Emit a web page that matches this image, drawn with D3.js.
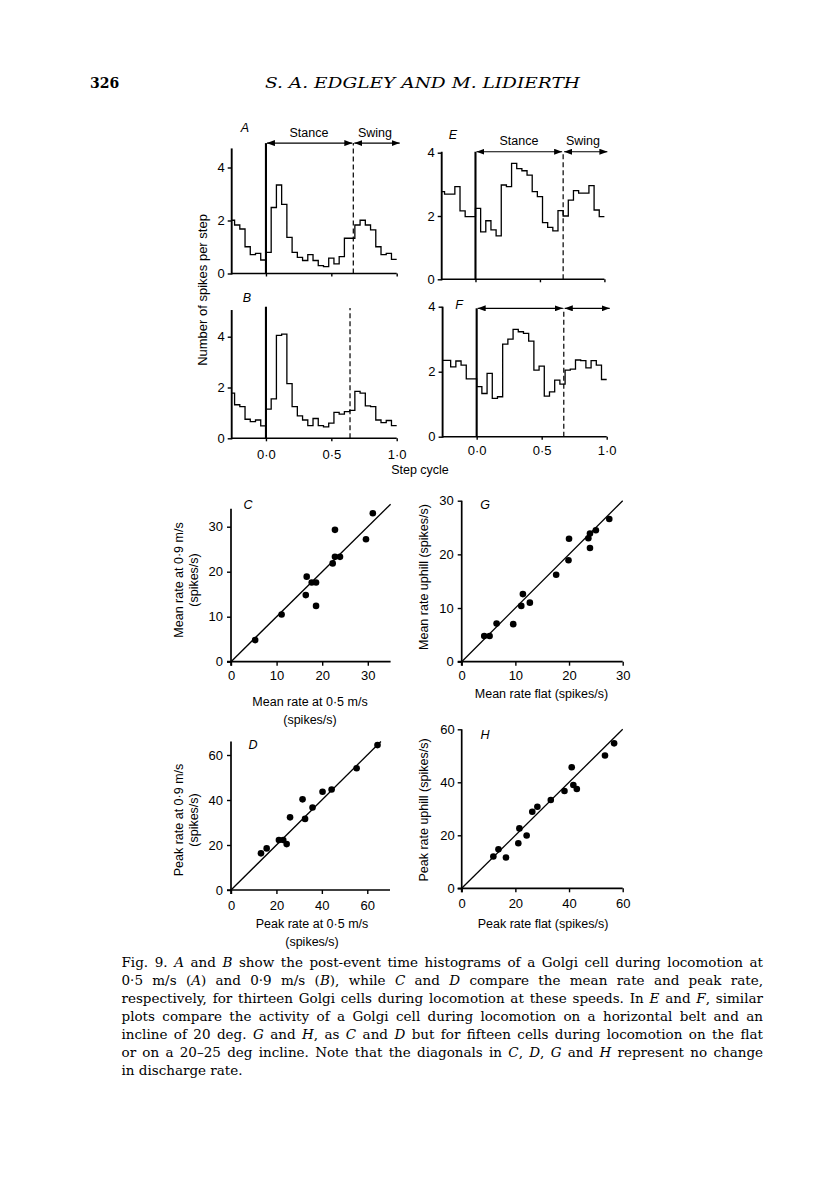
<!DOCTYPE html>
<html><head><meta charset="utf-8">
<script src="https://cdn.jsdelivr.net/npm/d3@7/dist/d3.min.js"></script>
<style>body{margin:0;background:#fff}svg{display:block}</style>
</head><body>
<svg id="fig" width="816" height="1200"></svg>
<script>
// ---------- DATA ----------
const binStart = -0.28, binWidth = 0.04;
// spikes per step per bin (A: 0.5 m/s, B: 0.9 m/s, E: flat, F: incline)
const histA = [2.01,1.83,1.68,1.01,0.71,0.76,0.51, 0.80,2.49,3.34,2.61,1.36,0.80,0.61,0.49,0.71,0.49,0.30,0.26,0.58,0.36,0.64,1.33,1.33,1.83,2.01,1.83,1.65,1.01,0.71,0.76,0.53];
const histB = [1.78,1.32,1.25,0.75,0.66,0.72,0.49, 1.15,1.55,4.05,4.10,2.15,1.25,0.88,0.72,0.50,0.78,0.50,0.45,0.60,1.02,0.95,1.05,1.10,1.85,1.78,1.28,1.25,0.72,0.62,0.70,0.50];
const histE = [2.77,2.69,2.69,2.93,2.16,1.98,1.98, 2.24,1.50,1.85,1.56,1.37,2.98,2.93,3.66,3.50,3.43,3.29,2.77,2.61,1.79,1.64,1.53,2.17,2.00,2.50,2.80,2.72,2.72,2.96,2.19,1.98];
const histF = [2.35,2.35,2.15,2.33,2.20,1.78,1.78, 1.54,1.33,1.95,1.18,1.23,2.85,3.00,3.30,3.23,3.18,2.94,2.05,2.17,1.25,1.38,1.74,1.62,2.05,2.08,2.36,2.34,2.12,2.34,2.20,1.76];
const swingOnset = {A:0.668, B:0.643, E:0.68, F:0.67};
const histYTicks = [0,2,4];
const stepTicks = [0,0.5,1.0];

// C: mean rate 0.5 m/s vs 0.9 m/s (13 cells)
const meanSlow = [5.3,11.1,16.4,16.6,17.7,18.65,18.65,22.3,22.8,22.8,23.9,29.6,31.1];
const meanFast = [4.8,10.5,14.8,18.9,17.6,17.6,12.4,21.85,23.3,29.3,23.3,27.2,33.0];
// D: peak rate 0.5 vs 0.9 m/s
const peakSlow = [13.2,15.7,21.1,23.0,24.5,26.0,31.5,32.6,35.9,40.3,44.3,55.3,64.5];
const peakFast = [16.3,18.5,22.2,22.2,20.4,32.3,40.3,31.6,36.7,43.7,44.7,54.1,64.4];
// G: mean rate flat vs uphill (15 cells)
const meanFlat = [4.2,5.2,6.5,9.6,11.1,11.4,12.7,17.6,19.9,20.0,23.6,23.9,23.9,25.0,27.5];
const meanUp   = [4.8,4.8,7.1,7.0,10.4,12.6,11.0,16.2,18.9,22.9,23.0,23.9,21.2,24.5,26.6];
// H: peak rate flat vs uphill
const peakFlat = [11.8,13.7,16.5,21.1,21.5,24.2,26.3,28.2,33.2,38.3,41.0,41.6,42.9,53.4,56.8];
const peakUp   = [12.0,14.7,11.6,17.0,22.6,19.9,28.9,30.8,33.3,36.7,45.7,39.0,37.5,50.1,54.7];

const ticksC = [0,10,20,30], ticksG = [0,10,20,30], ticksD = [0,20,40,60], ticksH = [0,20,40,60];

const captionLines = [
 "Fig. 9. _A_ and _B_ show the post-event time histograms of a Golgi cell during locomotion at",
 "0·5 m/s (_A_) and 0·9 m/s (_B_), while _C_ and _D_ compare the mean rate and peak rate,",
 "respectively, for thirteen Golgi cells during locomotion at these speeds. In _E_ and _F_, similar",
 "plots compare the activity of a Golgi cell during locomotion on a horizontal belt and an",
 "incline of 20 deg. _G_ and _H_, as _C_ and _D_ but for fifteen cells during locomotion on the flat",
 "or on a 20–25 deg incline. Note that the diagonals in _C_, _D_, _G_ and _H_ represent no change",
 "in discharge rate."
];

// ---------- DRAWING ----------
const svg = d3.select("#fig");
const SANS = "'Liberation Sans', Arial, Helvetica, sans-serif";
const SERIF = "'DejaVu Serif', 'Liberation Serif', serif";

const defs = svg.append("defs");
defs.append("marker").attr("id","arr").attr("viewBox","0 0 8 6")
  .attr("refX",8).attr("refY",3).attr("markerWidth",8).attr("markerHeight",6)
  .attr("markerUnits","userSpaceOnUse").attr("orient","auto-start-reverse")
  .append("path").attr("d","M0,0 L8,3 L0,6 Z").attr("fill","#000");

// header
svg.append("text").attr("x",90).attr("y",88).attr("font-family",SERIF).attr("font-size",14)
  .attr("font-weight","bold").text("326");
svg.append("text").attr("x",265).attr("y",88).attr("font-family",SERIF).attr("font-size",15)
  .attr("font-style","italic").attr("textLength",315).attr("lengthAdjust","spacingAndGlyphs")
  .text("S. A. EDGLEY AND M. LIDIERTH");

function styleAxis(g, fs){
  g.selectAll("text").attr("font-family",SANS).attr("font-size",fs).attr("fill","#000");
  g.selectAll("line").attr("stroke","#000").attr("stroke-width",1.4);
  g.select(".domain").remove();
}

const xMin = -0.262;
function histPanel(o){
  const x = d3.scaleLinear().domain([xMin,1]).range([o.xl, o.xr]);
  const y = d3.scaleLinear().domain([0,4]).range([o.y0, o.y4]);
  const g = svg.append("g");
  const ya = g.append("g").attr("transform",`translate(${x(xMin)},0)`)
    .call(d3.axisLeft(y).tickValues(histYTicks).tickSize(4).tickPadding(3).tickFormat(d3.format("d")));
  styleAxis(ya, 13);
  g.append("line").attr("x1",x(xMin)).attr("x2",x(xMin)).attr("y1",y(0)+1).attr("y2",y(o.yTop))
    .attr("stroke","#000").attr("stroke-width",1.9);
  const xa = g.append("g").attr("transform",`translate(0,${y(0)})`)
    .call(d3.axisBottom(x).tickValues(stepTicks).tickSize(3).tickPadding(o.tickPad||8)
      .tickFormat(o.labels ? (d=>d3.format(".1f")(d).replace(".","·")) : ""));
  styleAxis(xa, 13);
  g.append("line").attr("x1",x(xMin)).attr("x2",x(1)).attr("y1",y(0)).attr("y2",y(0))
    .attr("stroke","#000").attr("stroke-width",1.6);
  const pts = o.data.map((v,i)=>[Math.max(binStart+i*binWidth, xMin), v]);
  pts.push([1, o.data[o.data.length-1]]);
  g.append("path").attr("d", d3.line().x(d=>x(d[0])).y(d=>y(d[1])).curve(d3.curveStepAfter)(pts))
    .attr("fill","none").attr("stroke","#000").attr("stroke-width",1.3);
  g.append("line").attr("x1",x(0)).attr("x2",x(0)).attr("y1",y(0)).attr("y2",y(o.zeroTop))
    .attr("stroke","#000").attr("stroke-width",2.1);
  g.append("line").attr("x1",x(o.dash)).attr("x2",x(o.dash)).attr("y1",y(0)).attr("y2",y(o.dashTop))
    .attr("stroke","#000").attr("stroke-width",1.2).attr("stroke-dasharray","5,3");
  if (o.arrowY !== undefined){
    g.append("line").attr("x1",x(0)+1).attr("x2",x(o.dash)-1).attr("y1",y(o.arrowY)).attr("y2",y(o.arrowY))
      .attr("stroke","#000").attr("stroke-width",1.2).attr("marker-start","url(#arr)").attr("marker-end","url(#arr)");
    g.append("line").attr("x1",x(o.dash)+1).attr("x2",x(1)+3).attr("y1",y(o.arrowY)).attr("y2",y(o.arrowY))
      .attr("stroke","#000").attr("stroke-width",1.2).attr("marker-start","url(#arr)").attr("marker-end","url(#arr)");
  }
  if (o.phase){
    g.append("text").attr("x",o.phase[0]).attr("y",o.phase[2]).attr("text-anchor","middle")
      .attr("font-family",SANS).attr("font-size",12.5).text("Stance");
    g.append("text").attr("x",o.phase[1]).attr("y",o.phase[2]).attr("text-anchor","middle")
      .attr("font-family",SANS).attr("font-size",12.5).text("Swing");
  }
  g.append("text").attr("x",o.letter[0]).attr("y",o.letter[1]).attr("text-anchor","middle")
    .attr("font-family",SANS).attr("font-size",12.5).attr("font-style","italic").text(o.name);
}

histPanel({name:"A", data:histA, xl:231.7, xr:396.7, y0:273.5, y4:167.5, yTop:4.72, zeroTop:4.92,
  dash:swingOnset.A, dashTop:4.92, arrowY:4.92, labels:false, phase:[309,375,137], letter:[245,132]});
histPanel({name:"B", data:histB, xl:231.7, xr:396.7, y0:438.3, y4:336.7, yTop:5.05, zeroTop:5.18,
  dash:swingOnset.B, dashTop:5.13, labels:true, tickPad:8, letter:[247,302]});
histPanel({name:"E", data:histE, xl:441.7, xr:604.4, y0:279.3, y4:152.7, yTop:4.03, zeroTop:4.03,
  dash:swingOnset.E, dashTop:4.03, arrowY:4.03, labels:false, phase:[519,583,144.5], letter:[453,139]});
histPanel({name:"F", data:histF, xl:442.6, xr:606.7, y0:436.7, y4:306.7, yTop:4.0, zeroTop:3.95,
  dash:swingOnset.F, dashTop:3.95, arrowY:3.95, labels:true, tickPad:6, letter:[459,309]});

svg.append("text").attr("transform","translate(207,290) rotate(-90)").attr("text-anchor","middle")
  .attr("font-family",SANS).attr("font-size",13).text("Number of spikes per step");
svg.append("text").attr("x",420).attr("y",474).attr("text-anchor","middle")
  .attr("font-family",SANS).attr("font-size",12.5).text("Step cycle");

function scatterPanel(o){
  const x = d3.scaleLinear().domain([0,o.xMax]).range([o.ox, o.xEnd]);
  const y = d3.scaleLinear().domain([0,o.yMax]).range([o.oy, o.yEnd]);
  const g = svg.append("g");
  const ya = g.append("g").attr("transform",`translate(${o.ox},0)`)
    .call(d3.axisLeft(y).tickValues(o.ticks).tickSize(4).tickPadding(o.yPad));
  styleAxis(ya, 13);
  g.append("line").attr("x1",o.ox).attr("x2",o.ox).attr("y1",y(0)+4).attr("y2",y(o.yMax))
    .attr("stroke","#000").attr("stroke-width",1.7);
  const xa = g.append("g").attr("transform",`translate(0,${o.oy})`)
    .call(d3.axisBottom(x).tickValues(o.ticks).tickSize(4).tickPadding(o.xPad));
  styleAxis(xa, 13);
  g.append("line").attr("x1",o.ox-4).attr("x2",x(o.xMax)).attr("y1",o.oy).attr("y2",o.oy)
    .attr("stroke","#000").attr("stroke-width",1.7);
  g.append("line").attr("x1",x(0)).attr("y1",y(0)).attr("x2",x(o.diag)).attr("y2",y(o.diag))
    .attr("stroke","#000").attr("stroke-width",1.3);
  g.selectAll("circle.pt").data(o.xs.map((v,i)=>[v,o.ys[i]])).join("circle")
    .attr("cx",d=>x(d[0])).attr("cy",d=>y(d[1])).attr("r",3.3).attr("fill","#000");
  g.append("text").attr("x",o.letter[0]).attr("y",o.letter[1]).attr("text-anchor","middle")
    .attr("font-family",SANS).attr("font-size",12.5).attr("font-style","italic").text(o.name);
  o.yTitle.forEach((t,i)=>{
    g.append("text").attr("transform",`translate(${o.yTitleX[i]},${o.yTitleY}) rotate(-90)`)
      .attr("text-anchor","middle").attr("dominant-baseline","central")
      .attr("font-family",SANS).attr("font-size",12.5).text(t);
  });
  o.xTitle.forEach((t,i)=>{
    g.append("text").attr("x",o.xTitleX).attr("y",o.xTitleY[i]).attr("text-anchor","middle")
      .attr("dominant-baseline","central").attr("font-family",SANS).attr("font-size",12.5).text(t);
  });
}

scatterPanel({name:"C", xs:meanSlow, ys:meanFast, ticks:ticksC, xMax:35, yMax:34, diag:35,
  ox:231, xEnd:390.6, oy:661.7, yEnd:508.7, yPad:4, xPad:5, letter:[248,509],
  yTitle:["Mean rate at 0·9 m/s","(spikes/s)"], yTitleX:[178.5,193.5], yTitleY:580,
  xTitle:["Mean rate at 0·5 m/s","(spikes/s)"], xTitleX:310, xTitleY:[701.5,719.5]});
scatterPanel({name:"G", xs:meanFlat, ys:meanUp, ticks:ticksG, xMax:30, yMax:30, diag:30,
  ox:461.7, xEnd:622.7, oy:661.7, yEnd:500.7, yPad:4, xPad:5, letter:[485,509],
  yTitle:["Mean rate uphill (spikes/s)"], yTitleX:[423.5], yTitleY:577,
  xTitle:["Mean rate flat (spikes/s)"], xTitleX:541.5, xTitleY:[693.5]});
scatterPanel({name:"D", xs:peakSlow, ys:peakFast, ticks:ticksD, xMax:70, yMax:66, diag:66,
  ox:231, xEnd:390, oy:890, yEnd:741.5, yPad:4, xPad:6.7, letter:[253,749],
  yTitle:["Peak rate at 0·9 m/s","(spikes/s)"], yTitleX:[178.5,193.5], yTitleY:820,
  xTitle:["Peak rate at 0·5 m/s","(spikes/s)"], xTitleX:312, xTitleY:[923.5,941.5]});
scatterPanel({name:"H", xs:peakFlat, ys:peakUp, ticks:ticksH, xMax:60, yMax:60, diag:60,
  ox:461.7, xEnd:622.7, oy:888.3, yEnd:729.3, yPad:3, xPad:6, letter:[485,739],
  yTitle:["Peak rate uphill (spikes/s)"], yTitleX:[423.5], yTitleY:810,
  xTitle:["Peak rate flat (spikes/s)"], xTitleX:543, xTitleY:[923.5]});

// caption, justified by word spacing
const capLeft = 121.5, capWidth = 641.5;
captionLines.forEach((line,i)=>{
  const t = svg.append("text").attr("x",capLeft).attr("y",967+i*18)
    .attr("font-family",SERIF).attr("font-size",13.5);
  line.split("_").forEach((seg,k)=>{
    if (!seg) return;
    const s = t.append("tspan").text(seg);
    if (k%2===1) s.attr("font-style","italic");
  });
  if (i < captionLines.length-1){
    const natural = t.node().getComputedTextLength();
    const spaces = (line.match(/ /g)||[]).length;
    if (natural > capWidth) {
      t.attr("textLength",capWidth).attr("lengthAdjust","spacingAndGlyphs");
    } else {
      t.attr("word-spacing", (capWidth-natural)/spaces);
    }
  }
});
</script>
</body></html>
